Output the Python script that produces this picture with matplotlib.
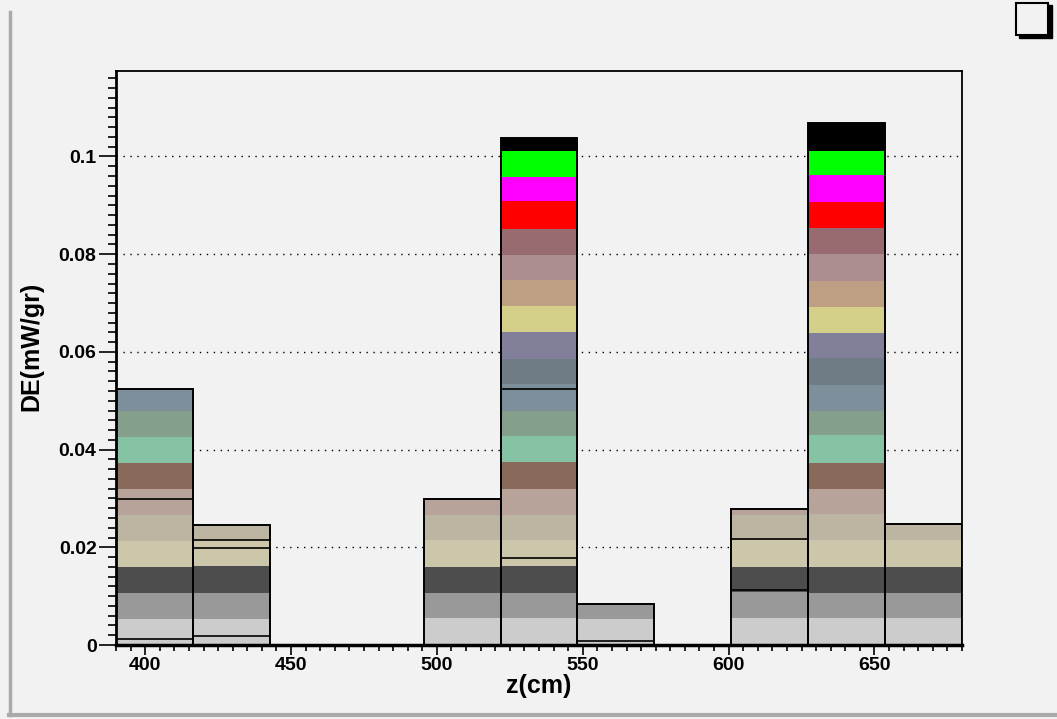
import numpy as np
import matplotlib.pyplot as plt
from matplotlib.patches import Rectangle
from matplotlib.lines import Line2D
from matplotlib.ticker import MultipleLocator

plt.rcParams['font.family'] = ['Liberation Sans', 'DejaVu Sans']
plt.rcParams['font.weight'] = 'bold'

# histogram binning: 11 bins from 390 to 680 cm
zmin, zmax, nbins = 390.0, 680.0, 11
edges = np.linspace(zmin, zmax, nbins + 1)

# stacked components, bottom to top (one value per bin)
layer_colors = ['#cccccc', '#999999', '#4d4d4d', '#ccc7ab', '#bbb5a1', '#b8a39b',
                '#896959', '#86c2a4', '#84a08c', '#7c8f9a', '#6f7c85', '#817f9a',
                '#d4d08a', '#be9f84', '#ad8e90', '#976b70', '#ff0000', '#ff00ff',
                '#00ff00', '#000000']
layers = [
    [.0054, .0054, 0, 0, .0056, .0056, .0054, 0, .0056, .0056, .0056],
    [.0053, .0053, 0, 0, .0051, .0051, .0030, 0, .0053, .0051, .0051],
    [.0053, .0055, 0, 0, .0053, .0055, 0, 0, .0051, .0053, .0053],
    [.0053, .0052, 0, 0, .0055, .0053, 0, 0, .0055, .0054, .0055],
    [.0053, .0031, 0, 0, .0051, .0051, 0, 0, .0051, .0054, .0032],
    [.0054, 0, 0, 0, .0032, .0054, 0, 0, .0012, .0052, 0],
    [.0053, 0, 0, 0, 0, .0055, 0, 0, 0, .0053, 0],
    [.0053, 0, 0, 0, 0, .0052, 0, 0, 0, .0056, 0],
    [.0054, 0, 0, 0, 0, .0053, 0, 0, 0, .0051, 0],
    [.0044, 0, 0, 0, 0, .0055, 0, 0, 0, .0053, 0],
    [0, 0, 0, 0, 0, .0051, 0, 0, 0, .0055, 0],
    [0, 0, 0, 0, 0, .0054, 0, 0, 0, .0051, 0],
    [0, 0, 0, 0, 0, .0053, 0, 0, 0, .0053, 0],
    [0, 0, 0, 0, 0, .0055, 0, 0, 0, .0054, 0],
    [0, 0, 0, 0, 0, .0051, 0, 0, 0, .0055, 0],
    [0, 0, 0, 0, 0, .0053, 0, 0, 0, .0052, 0],
    [0, 0, 0, 0, 0, .0056, 0, 0, 0, .0053, 0],
    [0, 0, 0, 0, 0, .0051, 0, 0, 0, .0056, 0],
    [0, 0, 0, 0, 0, .0053, 0, 0, 0, .0050, 0],
    [0, 0, 0, 0, 0, .0026, 0, 0, 0, .0057, 0],
]

# extra outline levels seen inside bars (bin index, value)
outline_bins = [0, 0, 1, 1, 1, 5, 5, 6, 8, 8]
outline_vals = [.0299, .0012, .0214, .0198, .0019, .0525, .0178, .0009, .0217, .0112]

bg = '#f2f2f2'
fig = plt.figure(figsize=(10.57, 7.19), dpi=100, facecolor=bg)
ax = fig.add_axes([116 / 1057, 1 - 645 / 719, (962 - 116) / 1057, (645 - 71) / 719])
ax.set_facecolor(bg)

width = np.diff(edges)
bottom = np.zeros(nbins)
for vals, col in zip(layers, layer_colors):
    vals = np.array(vals)
    ax.bar(edges[:-1], vals, width=width, bottom=bottom, align='edge',
           color=col, linewidth=0, zorder=2)
    bottom += vals

# bar outlines
for i in range(nbins):
    if bottom[i] > 0:
        ax.add_patch(Rectangle((edges[i], 0), width[i], bottom[i], fill=False,
                               edgecolor='black', linewidth=1.4, zorder=3))
for b, v in zip(outline_bins, outline_vals):
    ax.hlines(v, edges[b], edges[b + 1], color='black', linewidth=1.2, zorder=3)

ax.set_xlim(zmin, zmax)
ax.set_ylim(0, 0.1175)
ax.yaxis.set_major_locator(MultipleLocator(0.02))
ax.yaxis.set_minor_locator(MultipleLocator(0.002))
ax.xaxis.set_major_locator(MultipleLocator(50))
ax.xaxis.set_minor_locator(MultipleLocator(5))
ax.set_yticks([0, 0.02, 0.04, 0.06, 0.08, 0.1])
ax.set_yticklabels(['0', '0.02', '0.04', '0.06', '0.08', '0.1'])

ax.set_axisbelow(True)
ax.yaxis.grid(True, which='major', color='black', linestyle=(0, (1, 4)), linewidth=1.0)

ax.tick_params(axis='y', which='major', direction='out', length=12, width=1.2,
               labelsize=14, pad=2)
ax.tick_params(axis='y', which='minor', direction='out', length=6, width=1.2)
ax.tick_params(axis='x', which='major', direction='out', length=7, width=1.2,
               labelsize=14, pad=2)
ax.tick_params(axis='x', which='minor', direction='out', length=4, width=1.2)
for lab in ax.get_xticklabels() + ax.get_yticklabels():
    lab.set_fontweight('bold')
for s in ax.spines.values():
    s.set_linewidth(1.3)
ax.spines['bottom'].set_linewidth(2.5)
ax.spines['left'].set_linewidth(2.0)

ax.set_xlabel('z(cm)', fontsize=18, fontweight='bold', labelpad=0)
ax.set_ylabel('DE(mW/gr)', fontsize=18, fontweight='bold')
ax.yaxis.set_label_coords(-73 / 846, 0.52)

# canvas border
W, H = 1057, 719
fig.add_artist(Line2D([9.5 / W, 9.5 / W], [1 - 12 / H, 1 - 715 / H], color='#aaaaaa',
                      linewidth=2.5, transform=fig.transFigure))
fig.add_artist(Line2D([9 / W, 1.0], [1 - 714.5 / H, 1 - 714.5 / H], color='#aaaaaa',
                      linewidth=3, transform=fig.transFigure))

# empty box top right with shadow
fig.add_artist(Rectangle((1019 / W, 1 - 38 / H), 33 / W, 33 / H, facecolor='black',
                         edgecolor='black', transform=fig.transFigure))
fig.add_artist(Rectangle((1016 / W, 1 - 35 / H), 32 / W, 32 / H, facecolor=bg,
                         edgecolor='black', linewidth=1.5, transform=fig.transFigure))

fig.savefig('out.png', dpi=100, facecolor=bg)
